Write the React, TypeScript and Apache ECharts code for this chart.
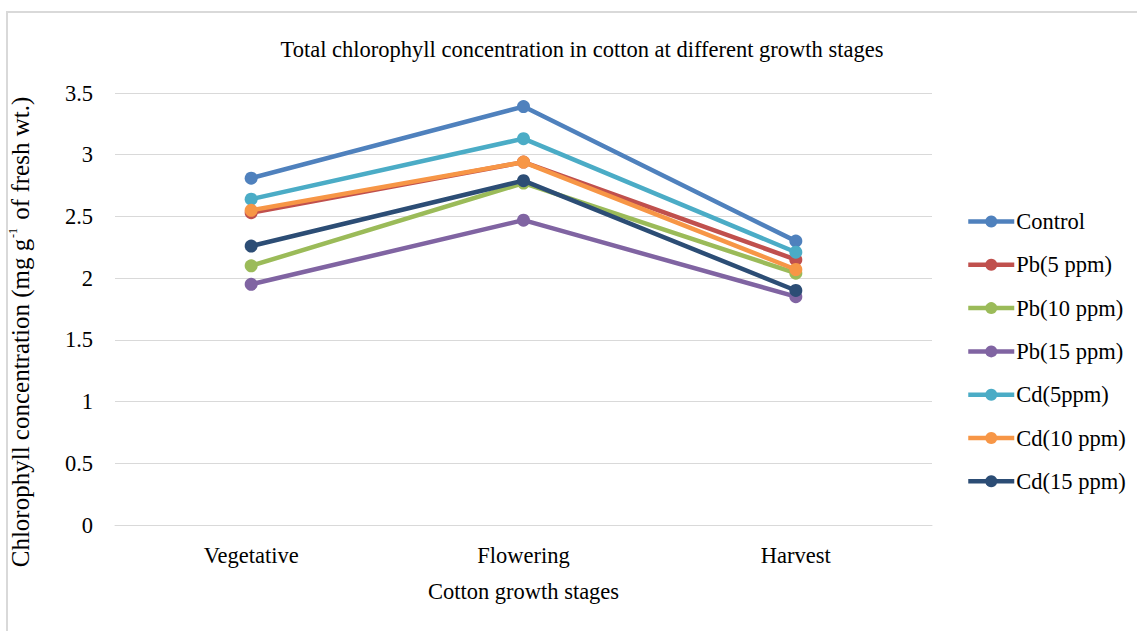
import React, { useEffect, useRef } from "react";
import * as echarts from "echarts";

const stages = ["Vegetative", "Flowering", "Harvest"];
const control = [2.81, 3.39, 2.3];
const pb5 = [2.53, 2.94, 2.15];
const pb10 = [2.1, 2.77, 2.04];
const pb15 = [1.95, 2.47, 1.85];
const cd5 = [2.64, 3.13, 2.21];
const cd10 = [2.55, 2.94, 2.07];
const cd15 = [2.26, 2.79, 1.9];

const seriesNames = ["Control", "Pb(5 ppm)", "Pb(10 ppm)", "Pb(15 ppm)", "Cd(5ppm)", "Cd(10 ppm)", "Cd(15 ppm)"];
const seriesData = [control, pb5, pb10, pb15, cd5, cd10, cd15];
const colors = ["#4F81BD", "#C0504D", "#9BBB59", "#8064A2", "#4BACC6", "#F79646", "#2C4D75"];

const FONT = "'Liberation Serif', 'Times New Roman', serif";
const FS = 22.5;

export default function App() {
  const ref = useRef<HTMLDivElement>(null);

  useEffect(() => {
    if (!ref.current) return;
    const chart = echarts.init(ref.current, null, { renderer: "svg" });
    chart.setOption({
      animation: false,
      color: colors,
      backgroundColor: "#ffffff",
      textStyle: { fontFamily: FONT },
      title: {
        text: "Total chlorophyll concentration in cotton at different growth stages",
        left: 577,
        top: 33,
        textAlign: "center",
        textStyle: { fontFamily: FONT, fontSize: FS, fontWeight: "normal", color: "#000" },
      },
      grid: { left: 115, right: 205, top: 93, bottom: 106 },
      legend: {
        orient: "vertical",
        left: 966,
        top: 210,
        padding: 0,
        itemWidth: 46,
        itemHeight: 15,
        itemGap: 20.3,
        lineStyle: { width: 4.5 },
        textStyle: { fontFamily: FONT, fontSize: FS, color: "#000", padding: [0, 0, 0, -3] },
        data: seriesNames,
      },
      xAxis: {
        type: "category",
        data: stages,
        boundaryGap: true,
        name: "Cotton growth stages",
        nameLocation: "middle",
        nameGap: 55,
        nameTextStyle: { fontFamily: FONT, fontSize: FS, color: "#000" },
        axisLine: { show: true, lineStyle: { color: "#d9d9d9" } },
        axisTick: { show: false },
        axisLabel: { fontFamily: FONT, fontSize: FS, color: "#000", margin: 19 },
      },
      yAxis: {
        type: "value",
        min: 0,
        max: 3.5,
        interval: 0.5,
        axisLine: { show: false },
        axisTick: { show: false },
        axisLabel: { fontFamily: FONT, fontSize: FS, color: "#000", margin: 22 },
        splitLine: { lineStyle: { color: "#d9d9d9", width: 1 } },
      },
      graphic: [
        {
          type: "rect",
          shape: { x: 7, y: 12, width: 1200, height: 700 },
          style: { fill: "none", stroke: "#d9d9d9", lineWidth: 2 },
          silent: true,
        },
        {
          type: "text",
          x: 20,
          y: 332,
          rotation: Math.PI / 2,
          style: {
            text: "{a|Chlorophyll concentration (mg g}{s|-1}{a| of fresh wt.)}",
            align: "center",
            verticalAlign: "middle",
            rich: {
              a: { fontFamily: FONT, fontSize: 25, color: "#000", lineHeight: 27 },
              s: { fontFamily: FONT, fontSize: 12, color: "#000", verticalAlign: "top", lineHeight: 27, padding: [0, 2, 11, 1] },
            },
          },
        },
      ],
      series: seriesNames.map((name, i) => ({
        name,
        type: "line",
        data: seriesData[i],
        symbol: "circle",
        symbolSize: 13,
        lineStyle: { width: 4.5, color: colors[i] },
        itemStyle: { color: colors[i] },
        z: 2 + i,
      })),
    });
    return () => chart.dispose();
  }, []);

  return (
    <div
      ref={ref}
      style={{ position: "fixed", left: 0, top: 0, width: 1137, height: 631 }}
    />
  );
}
